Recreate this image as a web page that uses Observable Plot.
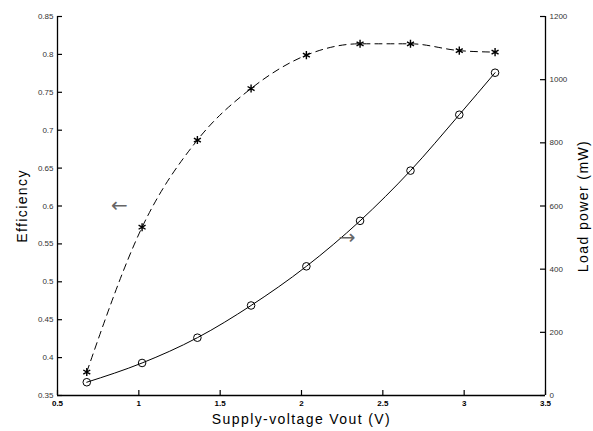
<!DOCTYPE html>
<html><head><meta charset="utf-8">
<script src="https://cdn.jsdelivr.net/npm/d3@7"></script>
<script src="https://cdn.jsdelivr.net/npm/@observablehq/plot@0.6"></script>
<style>body{margin:0;background:#fff}</style>
</head><body><div id="chart"></div>
<script>
// Data
const voltage = [0.68, 1.02, 1.36, 1.69, 2.03, 2.36, 2.67, 2.97, 3.19];
const efficiency = [0.381, 0.572, 0.687, 0.755, 0.799, 0.814, 0.814, 0.805, 0.803];
const loadPower = [42, 103, 183, 285, 409, 553, 712, 889, 1022];

const voltTicks = [0.5, 1, 1.5, 2, 2.5, 3, 3.5];
const effTicks = [0.35, 0.4, 0.45, 0.5, 0.55, 0.6, 0.65, 0.7, 0.75, 0.8, 0.85];
const powerTicks = [0, 200, 400, 600, 800, 1000, 1200];

const xLabel = "Supply-voltage Vout (V)";
const yLabelLeft = "Efficiency";
const yLabelRight = "Load power (mW)";

// arrow annotations: which axis each curve belongs to
const arrowLeft = [{text: "\u2190", x: 0.88, eff: 0.6}];
const arrowRight = [{text: "\u2192", x: 2.28, power: 500}];

const P2E = d3.scaleLinear([0, 1200], [0.35, 0.85]);
const effRows = voltage.map((v, i) => ({v, e: efficiency[i]}));
const powRows = voltage.map((v, i) => ({v, p: loadPower[i]}));

const font = "'Liberation Sans', Arial, Helvetica, sans-serif";
const W = 593, H = 431, mT = 16, mR = 48, mB = 36, mL = 57;
const plotW = W - mL - mR, plotH = H - mT - mB, tickLen = 5;

const chart = Plot.plot({
  width: W, height: H,
  marginTop: mT, marginRight: mR, marginBottom: mB, marginLeft: mL,
  style: {fontFamily: font, background: "#fff"},
  x: {domain: [0.5, 3.5]},
  y: {domain: [0.35, 0.85]},
  marks: [
    Plot.axisY(effTicks, {anchor: "left", tickSize: 0, tickPadding: 4, fontSize: 8, fill: "#333", label: null, tickFormat: d => String(d)}),
    Plot.axisY(powerTicks.map(P2E), {anchor: "right", tickSize: 0, tickPadding: 4, fontSize: 8, fill: "#333", label: null, tickFormat: d => String(Math.round(P2E.invert(d)))}),
    Plot.axisX(voltTicks, {anchor: "bottom", tickSize: 0, tickPadding: 5, fontSize: 8, fontWeight: "bold", fill: "#000", label: null, tickFormat: d => String(d)}),
    // inward tick marks
    Plot.tickY(effTicks, {y: d => d, insetRight: plotW - tickLen, stroke: "#000", strokeWidth: 1.2}),
    Plot.tickY(powerTicks, {y: d => P2E(d), insetLeft: plotW - tickLen, stroke: "#000", strokeWidth: 1.2}),
    Plot.tickX(voltTicks, {x: d => d, insetTop: plotH - tickLen, stroke: "#000", strokeWidth: 1.2}),
    Plot.ruleX([0.5, 3.5], {stroke: "#000", strokeWidth: 1.3}),
    Plot.ruleY([0.35], {stroke: "#000", strokeWidth: 1.5}),
    Plot.line(effRows, {x: "v", y: "e", curve: "monotone-x", stroke: "#000", strokeWidth: 1, strokeDasharray: "7,5"}),
    Plot.dot(effRows, {x: "v", y: "e", symbol: "asterisk", r: 3.8, stroke: "#000", strokeWidth: 1.4}),
    Plot.line(powRows, {x: "v", y: d => P2E(d.p), curve: "monotone-x", stroke: "#000", strokeWidth: 1}),
    Plot.dot(powRows, {x: "v", y: d => P2E(d.p), symbol: "circle", r: 3.8, stroke: "#000", fill: "none", strokeWidth: 1}),
    Plot.text(arrowLeft, {x: "x", y: "eff", text: "text", fontSize: 20, fill: "#666", fontFamily: "DejaVu Sans"}),
    Plot.text(arrowRight, {x: "x", y: d => P2E(d.power), text: "text", fontSize: 20, fill: "#666", fontFamily: "DejaVu Sans"}),
    Plot.text([xLabel], {frameAnchor: "bottom", dy: 28, fontSize: 14, fill: "#000", textAnchor: "middle"}),
    Plot.text([yLabelLeft], {frameAnchor: "left", dx: -35, rotate: -90, fontSize: 14, fill: "#000", textAnchor: "middle"}),
    Plot.text([yLabelRight], {frameAnchor: "right", dx: 38, rotate: -90, fontSize: 14, fill: "#000", textAnchor: "middle"})
  ]
});
// MATLAB-style spaced axis titles
chart.querySelectorAll("text").forEach(t => {
  if ([xLabel, yLabelLeft, yLabelRight].includes(t.textContent)) t.setAttribute("letter-spacing", "1.4");
});
document.getElementById("chart").append(chart);
</script>
</body></html>
